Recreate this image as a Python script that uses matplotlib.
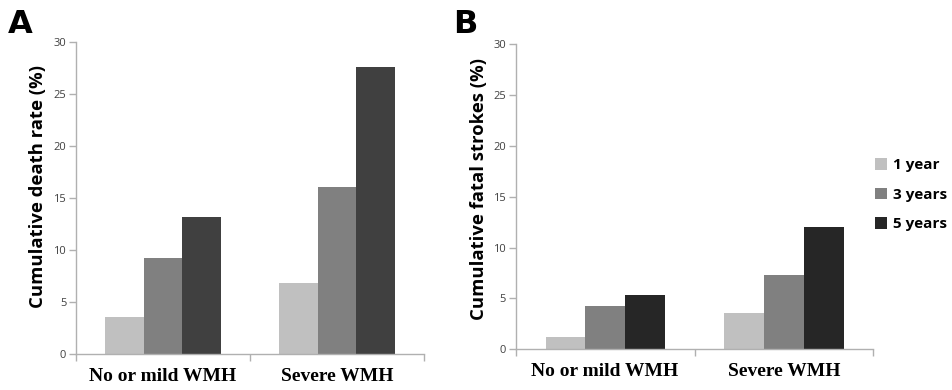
import matplotlib
matplotlib.use("Agg")
import matplotlib.pyplot as plt
import numpy as np

categories = ["No or mild WMH", "Severe WMH"]
series_labels = ["1 year", "3 years", "5 years"]
death_rate = {"1 year": [3.6, 6.8], "3 years": [9.2, 16.1], "5 years": [13.2, 27.6]}
fatal_strokes = {"1 year": [1.2, 3.6], "3 years": [4.3, 7.3], "5 years": [5.3, 12.0]}
yticks = [0, 5, 10, 15, 20, 25, 30]

colors_a = ["#c0c0c0", "#808080", "#404040"]
colors_b = ["#c0c0c0", "#808080", "#262626"]

fig = plt.figure(figsize=(9.53, 3.9), dpi=100)
ax_a = fig.add_axes([76/953, 1-354/390, (424-76)/953, (354-42)/390])
ax_b = fig.add_axes([515.7/953, 1-349.3/390, (873.3-515.7)/953, (349.3-44.3)/390])

bw = 1/(3+1.5)
spine_c = "#b0b0b0"

def draw(ax, data, colors, ylabel, label_xy):
    x = np.arange(len(categories))
    handles = []
    for i, s in enumerate(series_labels):
        h = ax.bar(x - bw + i*bw, data[s], width=bw, color=colors[i], label=s, zorder=2)
        handles.append(h)
    ax.set_xlim(-0.5, len(categories) - 0.5)
    ax.set_ylim(0, 30)
    ax.set_yticks(yticks)
    ax.set_yticklabels([str(t) for t in yticks], fontsize=8, color="#404040", family="Open Sans")
    ax.set_xticks(x)
    ax.set_xticklabels(categories, fontsize=14, fontweight="bold", family="Liberation Serif")
    ax.tick_params(axis="x", length=0, pad=10)
    ax.set_xticks(np.arange(len(categories)+1) - 0.5, minor=True)
    ax.tick_params(axis="x", which="minor", length=5, color=spine_c, width=1)
    ax.tick_params(axis="y", length=5, color=spine_c, width=1, pad=2)
    for sp in ["top", "right"]:
        ax.spines[sp].set_visible(False)
    for sp in ["left", "bottom"]:
        ax.spines[sp].set_color(spine_c)
        ax.spines[sp].set_linewidth(1)
    ax.set_ylabel(ylabel, fontsize=13.3, fontweight="bold", family="Open Sans")
    ax.yaxis.set_label_coords(*label_xy)
    return handles

draw(ax_a, death_rate, colors_a, "Cumulative death rate (%)", (-0.083, 0.538))
handles = draw(ax_b, fatal_strokes, colors_b, "Cumulative fatal strokes (%)", (-0.077, 0.526))

leg = fig.legend(handles=handles, labels=series_labels, loc="upper left",
                 bbox_to_anchor=(869/953, 1-152/390), frameon=False,
                 prop={"family": "Open Sans", "weight": "bold", "size": 11},
                 handlelength=0.8, handleheight=0.8, handletextpad=0.4, labelspacing=1.0,
                 borderaxespad=0)

fig.text(8/953, 1-33/390, "A", fontsize=23, fontweight="bold", family="DejaVu Sans")
fig.text(453/953, 1-33/390, "B", fontsize=23, fontweight="bold", family="DejaVu Sans")

fig.savefig("out.png", dpi=100)
